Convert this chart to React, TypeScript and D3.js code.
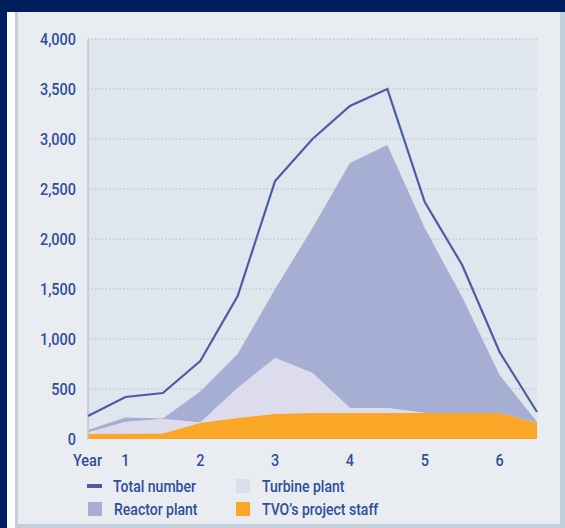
import React, { useEffect, useRef } from 'react';
import * as d3 from 'd3';

// half-year steps across the project
const years = [0.5, 1, 1.5, 2, 2.5, 3, 3.5, 4, 4.5, 5, 5.5, 6, 6.5];
const totalNumber = [230, 420, 460, 780, 1430, 2580, 3000, 3330, 3500, 2370, 1740, 870, 270];
const tvoStaff = [50, 50, 55, 160, 210, 250, 260, 260, 260, 260, 260, 260, 160];
const turbinePlant = [15, 120, 145, 5, 300, 560, 400, 50, 50, 0, 0, 0, 0];
const reactorPlant = [25, 45, 5, 310, 340, 690, 1450, 2450, 2630, 1850, 1160, 380, 10];
const yTicks = [0, 500, 1000, 1500, 2000, 2500, 3000, 3500, 4000];
const xTicks = [1, 2, 3, 4, 5, 6];

const W = 565;
const H = 528;
const margin = { top: 39, right: 28, bottom: 89, left: 88 };
const FONT = 'Roboto, sans-serif';
const TEXT = '#2f4e98';
const SQUEEZE = 0.85; // fake a condensed face

const colors = {
  staff: '#faa727',
  turbine: '#dcdced',
  reactor: '#a7aed3',
  total: '#4c5ca2',
};

const label = (
  parent: d3.Selection<any, any, any, any>,
  px: number,
  py: number,
  txt: string,
  size: number,
  anchor = 'start'
) =>
  parent.append('text')
    .attr('transform', `translate(${px},${py}) scale(${SQUEEZE},1)`)
    .attr('text-anchor', anchor)
    .attr('font-family', FONT)
    .attr('font-size', size)
    .attr('font-weight', 500)
    .attr('fill', TEXT)
    .text(txt);

const App = () => {
  const svgRef = useRef<SVGSVGElement>(null);

  useEffect(() => {
    const root = d3.select(svgRef.current);
    root.selectAll('*').remove();

    // frame
    root.append('rect').attr('width', W).attr('height', H).attr('fill', '#001f5e');
    root.append('rect').attr('x', 7).attr('y', 12).attr('width', W - 7).attr('height', H - 12).attr('fill', '#ffffff');
    root.append('rect').attr('x', 15).attr('y', 12).attr('width', W - 15).attr('height', H - 12).attr('fill', '#c3d0dc');
    root.append('rect').attr('x', 18).attr('y', 12).attr('width', W - 20 - 3).attr('height', H - 12 - 4).attr('fill', '#e9edf1');

    const innerW = W - margin.left - margin.right;
    const innerH = H - margin.top - margin.bottom;

    const x = d3.scaleLinear().domain([0.5, 6.5]).range([0, innerW]);
    const y = d3.scaleLinear().domain([0, 4000]).range([innerH, 0]);

    const g = root.append('g').attr('transform', `translate(${margin.left},${margin.top})`);

    g.append('rect').attr('width', innerW).attr('height', innerH).attr('fill', '#e0e6ee');

    // dotted gridlines
    g.selectAll('.grid')
      .data(yTicks.filter(d => d > 0))
      .enter()
      .append('line')
      .attr('x1', 0)
      .attr('x2', innerW)
      .attr('y1', d => y(d))
      .attr('y2', d => y(d))
      .attr('stroke', '#b4bcc8')
      .attr('stroke-width', 1.2)
      .attr('stroke-dasharray', '1.5,2');

    // stacked areas
    const rows = years.map((yr, i) => ({
      year: yr,
      staff: tvoStaff[i],
      turbine: turbinePlant[i],
      reactor: reactorPlant[i],
    }));
    const stack = d3.stack<any>().keys(['staff', 'turbine', 'reactor']);
    const series = stack(rows);

    const area = d3.area<any>()
      .x(d => x(d.data.year))
      .y0(d => y(d[0]))
      .y1(d => y(d[1]));

    // draw reactor first so the lower layers sit on top
    [...series].reverse().forEach(s => {
      g.append('path')
        .datum(s)
        .attr('fill', colors[s.key as keyof typeof colors])
        .attr('d', area as any);
    });

    // y axis line
    g.append('line')
      .attr('x1', 0).attr('x2', 0)
      .attr('y1', 0).attr('y2', innerH)
      .attr('stroke', '#b9c6d3')
      .attr('stroke-width', 1.5);

    // total line
    const line = d3.line<number>()
      .x((d, i) => x(years[i]))
      .y(d => y(d));
    g.append('path')
      .datum(totalNumber)
      .attr('fill', 'none')
      .attr('stroke', colors.total)
      .attr('stroke-width', 2.2)
      .attr('stroke-linejoin', 'miter')
      .attr('d', line);

    // tick labels
    yTicks.forEach(t => label(g, -12, y(t) + 6, d3.format(',')(t), 17, 'end'));
    xTicks.forEach(t => label(g, x(t), innerH + 27, String(t), 17, 'middle'));
    label(g, -15, innerH + 27, 'Year', 17);

    // legend
    const legend = [
      { label: 'Total number', color: colors.total, kind: 'line', lx: 87, ly: 486 },
      { label: 'Turbine plant', color: colors.turbine, kind: 'box', lx: 236, ly: 486 },
      { label: 'Reactor plant', color: colors.reactor, kind: 'box', lx: 88, ly: 509 },
      { label: 'TVO\u2019s project staff', color: colors.staff, kind: 'box', lx: 236, ly: 509 },
    ];
    const lg = root.append('g');
    legend.forEach(l => {
      if (l.kind === 'line') {
        lg.append('rect').attr('x', l.lx).attr('y', l.ly - 2).attr('width', 15).attr('height', 4).attr('fill', l.color);
      } else {
        lg.append('rect').attr('x', l.lx).attr('y', l.ly - 7).attr('width', 14).attr('height', 14).attr('fill', l.color);
      }
      label(lg, l.lx + 26, l.ly + 6, l.label, 16.5);
    });
  }, []);

  return (
    <svg
      ref={svgRef}
      width={W}
      height={H}
      viewBox={`0 0 ${W} ${H}`}
      style={{ position: 'absolute', left: 0, top: 0, display: 'block' }}
    />
  );
};

export default App;
